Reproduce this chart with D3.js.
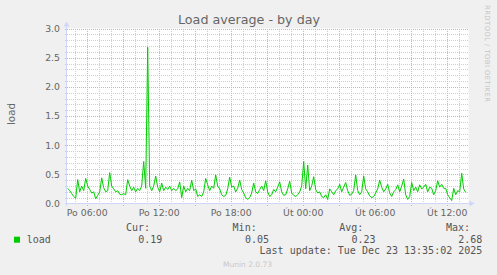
<!DOCTYPE html>
<html lang="cs">
<head>
<meta charset="UTF-8">
<title>Load average - by day</title>
<script src="https://d3js.org/d3.v7.min.js"></script>
<style>
    body { margin: 0; background: #f0f0f0; }
    svg { display: block; }
    .axis text { font-family: "DejaVu Sans", sans-serif; font-size: 9.3px; fill: #666; }
    .mono { font-family: "DejaVu Sans Mono", monospace; font-size: 10px; fill: #555; }
</style>
</head>
<body>
<div id="chart"></div>
<script>
// load samples, one every 10 minutes starting Mon 22 Dec 2025 04:25
const sampleStart = new Date(2025, 11, 22, 4, 25);
const sampleStepMin = 10;
const loadValues = [
    0.26,0.22,0.17,0.12,0.09,0.41,0.20,0.30,0.22,0.43,
    0.30,0.24,0.18,0.20,0.08,0.14,0.20,0.44,0.27,0.20,
    0.22,0.53,0.30,0.25,0.20,0.22,0.16,0.15,0.17,0.15,
    0.41,0.30,0.22,0.28,0.20,0.26,0.22,0.30,0.72,0.26,
    2.68,0.30,0.22,0.30,0.47,0.28,0.20,0.35,0.22,0.28,
    0.24,0.30,0.22,0.26,0.22,0.25,0.37,0.10,0.30,0.20,
    0.26,0.22,0.40,0.22,0.25,0.12,0.15,0.12,0.20,0.43,
    0.32,0.22,0.30,0.26,0.49,0.30,0.25,0.15,0.12,0.14,
    0.25,0.45,0.28,0.30,0.20,0.26,0.40,0.24,0.18,0.10,
    0.07,0.10,0.18,0.35,0.20,0.17,0.24,0.30,0.22,0.39,
    0.20,0.12,0.15,0.24,0.20,0.28,0.37,0.20,0.14,0.15,
    0.25,0.38,0.18,0.14,0.12,0.15,0.20,0.30,0.72,0.25,
    0.66,0.22,0.30,0.46,0.24,0.18,0.20,0.12,0.10,0.15,
    0.07,0.25,0.20,0.15,0.22,0.25,0.33,0.20,0.28,0.36,
    0.22,0.14,0.16,0.22,0.49,0.22,0.15,0.20,0.47,0.25,
    0.20,0.13,0.10,0.12,0.18,0.25,0.40,0.28,0.20,0.25,
    0.33,0.18,0.12,0.20,0.24,0.32,0.20,0.30,0.42,0.15,
    0.07,0.12,0.36,0.22,0.28,0.20,0.32,0.25,0.28,0.33,
    0.20,0.28,0.26,0.15,0.22,0.39,0.28,0.33,0.26,0.26,
    0.15,0.10,0.05,0.26,0.15,0.22,0.20,0.52,0.25,0.19
];

const tickTimes = [
    new Date(2025, 11, 22, 6), new Date(2025, 11, 22, 12), new Date(2025, 11, 22, 18),
    new Date(2025, 11, 23, 0), new Date(2025, 11, 23, 6), new Date(2025, 11, 23, 12)
];
const tickLabels = ["Po 06:00", "Po 12:00", "Po 18:00", "Út 00:00", "Út 06:00", "Út 12:00"];
const yTicks = [0, 0.5, 1.0, 1.5, 2.0, 2.5, 3.0];

const statNames = ["Cur:", "Min:", "Avg:", "Max:"];
const statValues = ["0.19", "0.05", "0.23", "2.68"];

const W = 497, H = 275;
const plotLeft = 67, plotRight = 468.5, plotTop = 28.5, plotBottom = 203.5;

const svg = d3.select("#chart").append("svg")
    .attr("width", W)
    .attr("height", H);

svg.append("rect").attr("width", W).attr("height", H).attr("fill", "#f0f0f0");

const x = d3.scaleTime()
    .domain([new Date(2025, 11, 22, 4, 21, 30), new Date(2025, 11, 23, 13, 49)])
    .range([plotLeft, plotRight]);

const y = d3.scaleLinear()
    .domain([0, 3])
    .range([plotBottom, plotTop]);

const data = loadValues.map((v, i) => ({
    t: new Date(sampleStart.getTime() + i * sampleStepMin * 60000),
    v: v
}));

// canvas
svg.append("rect")
    .attr("x", plotLeft).attr("y", plotTop)
    .attr("width", plotRight - plotLeft).attr("height", plotBottom - plotTop)
    .attr("fill", "#ffffff");

// grid
const grid = svg.append("g").attr("shape-rendering", "crispEdges").attr("stroke-width", 1);
const hours = d3.timeHour.range(x.domain()[0], x.domain()[1]);
const minorY = d3.range(1, 30).map(d => d / 10).filter(d => Math.round(d * 10) % 5 != 0);

grid.selectAll(".vminor")
    .data(hours.filter(h => h.getHours() % 3 != 0))
    .enter().append("line")
    .attr("x1", d => Math.round(x(d)) + 0.5).attr("x2", d => Math.round(x(d)) + 0.5)
    .attr("y1", plotTop).attr("y2", plotBottom)
    .attr("stroke", "#cfcfcf").attr("stroke-dasharray", "1,1");

grid.selectAll(".hminor")
    .data(minorY)
    .enter().append("line")
    .attr("x1", plotLeft - 2).attr("x2", plotRight)
    .attr("y1", d => Math.round(y(d)) + 0.5).attr("y2", d => Math.round(y(d)) + 0.5)
    .attr("stroke", "#cfcfcf").attr("stroke-dasharray", "1,1");

grid.selectAll(".vmajor")
    .data(hours.filter(h => h.getHours() % 3 == 0))
    .enter().append("line")
    .attr("x1", d => Math.round(x(d)) + 0.5).attr("x2", d => Math.round(x(d)) + 0.5)
    .attr("y1", plotTop).attr("y2", plotBottom + 2)
    .attr("stroke", "#eba8a8").attr("stroke-dasharray", "1,1");

grid.selectAll(".hmajor")
    .data(yTicks.filter(d => d > 0))
    .enter().append("line")
    .attr("x1", plotLeft - 2).attr("x2", plotRight)
    .attr("y1", d => Math.round(y(d)) + 0.5).attr("y2", d => Math.round(y(d)) + 0.5)
    .attr("stroke", "#eba8a8").attr("stroke-dasharray", "1,1");

// axes lines + arrows
const axisColor = "#cfd6f8";
svg.append("line")
    .attr("x1", plotLeft - 0.5).attr("x2", plotLeft - 0.5)
    .attr("y1", plotBottom + 2).attr("y2", plotTop - 4)
    .attr("stroke", axisColor).attr("shape-rendering", "crispEdges");
svg.append("line")
    .attr("x1", plotLeft - 2).attr("x2", plotRight + 2)
    .attr("y1", plotBottom).attr("y2", plotBottom)
    .attr("stroke", axisColor).attr("shape-rendering", "crispEdges");
svg.append("path")
    .attr("d", `M${plotLeft - 3.5},${plotTop - 2} L${plotLeft + 2.5},${plotTop - 2} L${plotLeft - 0.5},${plotTop - 7} Z`)
    .attr("fill", axisColor);
svg.append("path")
    .attr("d", `M${plotRight + 1},${plotBottom - 3} L${plotRight + 1},${plotBottom + 3} L${plotRight + 6},${plotBottom} Z`)
    .attr("fill", axisColor);

// tick labels
svg.append("g")
    .attr("class", "axis")
    .attr("transform", `translate(0,${plotBottom})`)
    .call(d3.axisBottom(x).tickValues(tickTimes).tickFormat((d, i) => tickLabels[i]).tickSize(0).tickPadding(6))
    .call(g => g.select(".domain").remove());

svg.append("g")
    .attr("class", "axis")
    .attr("transform", `translate(${plotLeft},0)`)
    .call(d3.axisLeft(y).tickValues(yTicks).tickFormat(d3.format(".1f")).tickSize(0).tickPadding(7))
    .call(g => g.select(".domain").remove());

// the load line
svg.append("path")
    .datum(data)
    .attr("fill", "none")
    .attr("stroke", "#00cc00")
    .attr("stroke-width", 1)
    .attr("d", d3.line().x(d => x(d.t)).y(d => y(d.v)));

// title and labels
svg.append("text")
    .attr("x", 249).attr("y", 24.3)
    .attr("text-anchor", "middle")
    .attr("font-family", "DejaVu Sans, sans-serif")
    .attr("font-size", "12.7px")
    .attr("fill", "#666")
    .text("Load average - by day");

svg.append("text")
    .attr("transform", "translate(14.5,114) rotate(-90)")
    .attr("text-anchor", "middle")
    .attr("font-family", "DejaVu Sans, sans-serif")
    .attr("font-size", "10.3px")
    .attr("fill", "#666")
    .text("load");

svg.append("text")
    .attr("transform", "translate(485,5) rotate(90)")
    .attr("font-family", "DejaVu Sans, sans-serif")
    .attr("font-size", "6.8px")
    .attr("textLength", 97)
    .attr("fill", "#c4c4c4")
    .text("RRDTOOL / TOBI OETIKER");

// legend
svg.append("rect")
    .attr("x", 14).attr("y", 236.7)
    .attr("width", 6).attr("height", 6)
    .attr("fill", "#00cc00");
svg.append("text").attr("class", "mono")
    .attr("x", 26.7).attr("y", 242.7)
    .text("load");

const statRight = [150, 256.7, 363.3, 470];
statNames.forEach((s, i) => {
    svg.append("text").attr("class", "mono")
        .attr("x", statRight[i]).attr("y", 230.8)
        .attr("text-anchor", "end")
        .text(s);
    svg.append("text").attr("class", "mono")
        .attr("x", statRight[i] + 12.3).attr("y", 242.7)
        .attr("text-anchor", "end")
        .text(statValues[i]);
});

svg.append("text").attr("class", "mono")
    .attr("x", 482.3).attr("y", 254)
    .attr("text-anchor", "end")
    .text("Last update: Tue Dec 23 13:35:02 2025");

svg.append("text")
    .attr("x", 247.5).attr("y", 267)
    .attr("text-anchor", "middle")
    .attr("font-family", "DejaVu Sans, sans-serif")
    .attr("font-size", "7.5px")
    .attr("fill", "#c8c8c8")
    .text("Munin 2.0.73");
</script>
</body>
</html>
